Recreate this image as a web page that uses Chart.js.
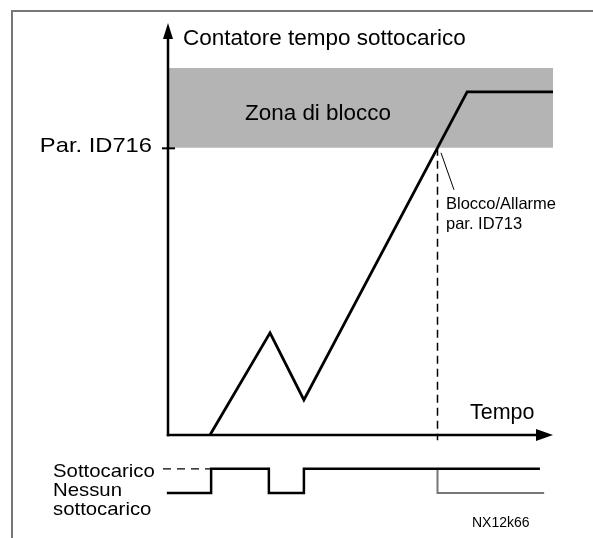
<!DOCTYPE html>
<html>
<head>
<meta charset="utf-8">
<script src="https://cdn.jsdelivr.net/npm/chart.js@4"></script>
<style>
  html, body { margin: 0; padding: 0; background: #fff; }
  #wrap { position: relative; width: 593px; height: 538px; overflow: hidden; }
  #frame { position: absolute; left: 11px; top: 10px; right: 0; bottom: 0;
           border-left: 2px solid #777; border-top: 2px solid #777; }
  #c { position: absolute; left: 0; top: 0; }
</style>
</head>
<body>
<div id="wrap">
  <div id="frame"></div>
  <canvas id="c" width="593" height="538"></canvas>
</div>
<script>
  // Contatore tempo sottocarico (unità arbitrarie: tempo 0..100, contatore 0..100)
  const counterTime  = [10.9, 26.5, 35.3, 77.7, 100];
  const counterValue = [0, 24.8, 8.5, 83.3, 83.3];

  // Zona di blocco: dal livello Par. ID716 fino al bordo superiore
  const tripLevel = 69.7;
  const zoneTop = 89.1;
  const zoneTime = [0, 100];

  // Istante di blocco/allarme
  const tripTime = 70;

  // Segnale di sottocarico (0 = nessun sottocarico, 1 = sottocarico)
  const signalTime  = [-0.3, 11.2, 11.2, 26.2, 26.2, 35.3, 35.3, 96.6];
  const signalState = [0, 0, 1, 1, 0, 0, 1, 1];
  const refTime  = [-1.3, 10.9];     // livello "Sottocarico" (tratteggiato)
  const refState = [1, 1];
  const afterTripTime  = [70, 70, 97.7];
  const afterTripState = [1, 0, 0];

  const FONT = '"Liberation Sans", Arial, Helvetica, sans-serif';

  const toXY = (xs, ys) => xs.map((x, i) => ({ x, y: ys[i] }));

  // testo con leggera dilatazione orizzontale come nell'originale
  function text(ctx, str, x, y, size, stretch, align) {
    ctx.save();
    ctx.font = size + 'px ' + FONT;
    ctx.textBaseline = 'alphabetic';
    ctx.fillStyle = '#000';
    ctx.translate(x, y);
    ctx.scale(stretch || 1, 1);
    ctx.textAlign = align || 'left';
    ctx.fillText(str, 0, 0);
    ctx.restore();
  }

  const overlay = {
    id: 'overlay',
    afterDatasetsDraw(chart) {
      const { ctx, scales } = chart;
      const x = scales.x, y = scales.y;
      const x0 = x.getPixelForValue(0);
      const y0 = y.getPixelForValue(0);
      const yTop = y.getPixelForValue(100);
      const xEnd = x.getPixelForValue(100);
      const yTrip = y.getPixelForValue(tripLevel);

      ctx.save();
      ctx.strokeStyle = '#000';
      ctx.fillStyle = '#000';
      ctx.lineWidth = 2.5;
      // asse verticale con freccia
      ctx.beginPath();
      ctx.moveTo(x0, y0 + 1.2);
      ctx.lineTo(x0, yTop + 12);
      ctx.stroke();
      ctx.beginPath();
      ctx.moveTo(x0, yTop);
      ctx.lineTo(x0 - 5, yTop + 16);
      ctx.lineTo(x0 + 5, yTop + 16);
      ctx.closePath();
      ctx.fill();
      // asse orizzontale con freccia
      ctx.beginPath();
      ctx.moveTo(x0 - 1.2, y0);
      ctx.lineTo(xEnd - 14, y0);
      ctx.stroke();
      ctx.beginPath();
      ctx.moveTo(xEnd, y0);
      ctx.lineTo(xEnd - 17, y0 - 6);
      ctx.lineTo(xEnd - 17, y0 + 6);
      ctx.closePath();
      ctx.fill();
      // tacca Par. ID716
      ctx.lineWidth = 2;
      ctx.beginPath();
      ctx.moveTo(x0 - 6, yTrip + 0.5);
      ctx.lineTo(x0 + 7, yTrip + 0.5);
      ctx.stroke();
      // richiamo Blocco/Allarme
      ctx.lineWidth = 1;
      ctx.beginPath();
      ctx.moveTo(x.getPixelForValue(tripTime) + 3.5, yTrip + 5);
      ctx.lineTo(x.getPixelForValue(tripTime) + 16.5, yTrip + 42);
      ctx.stroke();
      ctx.restore();

      text(ctx, 'Contatore tempo sottocarico', 183, 45, 22.5, 1);
      text(ctx, 'Zona di blocco', 245, 120, 22, 1.02);
      text(ctx, 'Par. ID716', 152, yTrip + 4, 21, 1.13, 'right');
      text(ctx, 'Tempo', 470, 419, 21.5, 1);
      text(ctx, 'Blocco/Allarme', 446, 209, 16.5, 1);
      text(ctx, 'par. ID713', 446, 229, 16.5, 1);
      text(ctx, 'Sottocarico', 53, 477, 18.5, 1.1);
      text(ctx, 'Nessun', 53, 496, 18.5, 1.1);
      text(ctx, 'sottocarico', 53, 515, 18.5, 1.1);
      text(ctx, 'NX12k66', 472, 527, 14, 1);
    }
  };

  new Chart(document.getElementById('c').getContext('2d'), {
    type: 'scatter',
    data: {
      datasets: [
        {
          label: 'Contatore',
          data: toXY(counterTime, counterValue),
          showLine: true,
          borderColor: '#000',
          borderWidth: 2.8,
          pointRadius: 0,
          order: 1,
          clip: false
        },
        {
          label: 'Blocco',
          data: [{ x: tripTime, y: tripLevel }, { x: tripTime, y: -1.3 }],
          showLine: true,
          borderColor: '#000',
          borderWidth: 1.5,
          borderDash: [8, 5],
          pointRadius: 0,
          order: 2,
          clip: false
        },
        {
          label: 'Zona di blocco',
          data: toXY(zoneTime, [zoneTop, zoneTop]),
          showLine: true,
          borderWidth: 0,
          borderColor: 'rgba(0,0,0,0)',
          backgroundColor: '#b4b4b4',
          fill: { value: tripLevel },
          pointRadius: 0,
          order: 10
        },
        {
          label: 'Segnale',
          data: toXY(signalTime, signalState),
          yAxisID: 'ySig',
          showLine: true,
          borderColor: '#000',
          borderWidth: 2.5,
          pointRadius: 0,
          order: 3,
          clip: false
        },
        {
          label: 'Sottocarico',
          data: toXY(refTime, refState),
          yAxisID: 'ySig',
          showLine: true,
          borderColor: '#000',
          borderWidth: 1.3,
          borderDash: [8, 6],
          pointRadius: 0,
          order: 4,
          clip: false
        },
        {
          label: 'Dopo blocco',
          data: toXY(afterTripTime, afterTripState),
          yAxisID: 'ySig',
          showLine: true,
          borderColor: '#777',
          borderWidth: 2,
          pointRadius: 0,
          order: 5,
          clip: false
        }
      ]
    },
    options: {
      responsive: false,
      animation: false,
      layout: { padding: { left: 168, right: 40, top: 23, bottom: 33 } },
      plugins: { legend: { display: false }, tooltip: { enabled: false } },
      scales: {
        x: { type: 'linear', display: false, min: 0, max: 100 },
        y: { type: 'linear', display: false, min: -17, max: 100 },
        ySig: { type: 'linear', display: false, min: -0.5, max: 19.5 }
      }
    },
    plugins: [overlay]
  });
</script>
</body>
</html>
